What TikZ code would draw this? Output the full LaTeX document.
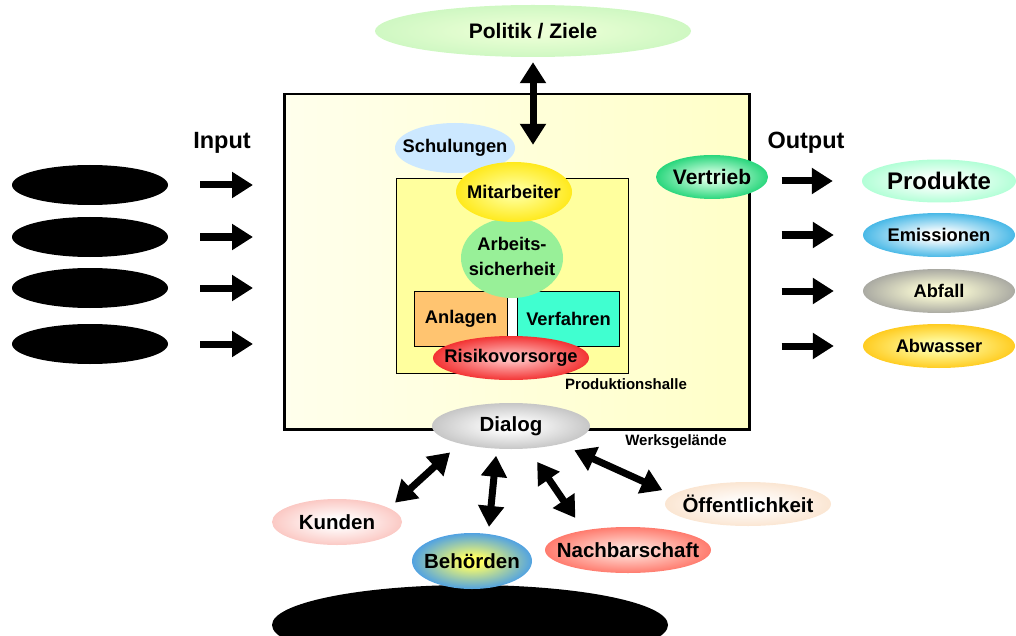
\documentclass[tikz,border=0pt]{standalone}
\usepackage{fontspec}
\setmainfont{Liberation Sans}
\usepackage{tikz}
\usetikzlibrary{shapes.geometric,arrows.meta}

\definecolor{werkhell}{RGB}{255,255,236}
\definecolor{werkgelb}{RGB}{255,255,200}
\definecolor{hallegelb}{RGB}{255,255,158}
\definecolor{schulblau}{RGB}{204,232,255}
\definecolor{arbgruen}{RGB}{152,240,152}
\definecolor{anlorange}{RGB}{255,196,112}
\definecolor{verftuerkis}{RGB}{64,255,208}
\definecolor{polinnen}{RGB}{236,255,214}
\definecolor{polaussen}{RGB}{200,246,190}
\definecolor{mitinnen}{RGB}{255,255,150}
\definecolor{mitaussen}{RGB}{255,228,0}
\definecolor{risinnen}{RGB}{255,185,185}
\definecolor{risaussen}{RGB}{240,20,20}
\definecolor{vertinnen}{RGB}{215,255,228}
\definecolor{vertaussen}{RGB}{0,205,100}
\definecolor{prodaussen}{RGB}{160,255,205}
\definecolor{emiaussen}{RGB}{30,168,225}
\definecolor{abfinnen}{RGB}{255,255,215}
\definecolor{abfaussen}{RGB}{150,150,150}
\definecolor{abwinnen}{RGB}{255,255,170}
\definecolor{abwaussen}{RGB}{255,192,0}
\definecolor{dialaussen}{RGB}{185,185,185}
\definecolor{kundaussen}{RGB}{250,188,182}
\definecolor{behinnen}{RGB}{255,255,100}
\definecolor{behaussen}{RGB}{40,140,255}
\definecolor{nachinnen}{RGB}{255,222,215}
\definecolor{nachaussen}{RGB}{255,100,85}
\definecolor{oeffaussen}{RGB}{250,224,200}

\makeatletter
\pgfdeclareradialshading[tikz@radial@inner,tikz@radial@outer]{weich}{\pgfpoint{0bp}{0bp}}{%
  color(0bp)=(tikz@radial@inner); color(4bp)=(tikz@radial@inner);
  color(30bp)=(tikz@radial@outer); color(50bp)=(tikz@radial@outer)}
\makeatother

\newcommand{\ovtext}[1]{\makebox[0pt]{#1}}

\begin{document}
\begin{tikzpicture}[x=1pt,y=-1pt]%
  \tikzstyle{oval}=[ellipse,inner sep=0pt,font=\bfseries\fontsize{18.3}{20}\selectfont]
  \tikzstyle{gross}=[font=\bfseries\fontsize{20.5}{22}\selectfont]
  \tikzstyle{klein}=[font=\bfseries\fontsize{15}{17}\selectfont]
  \tikzstyle{kasten}=[rectangle,draw,inner sep=0pt,anchor=north west]
  \tikzstyle{schwarz}=[ellipse,fill=black,inner sep=0pt]
  \tikzstyle{pfeil}=[line width=7pt,-{Triangle[length=21pt,width=25pt]}]
  \tikzstyle{doppel}=[line width=7pt,{Triangle[length=21pt,width=25pt]}-{Triangle[length=21pt,width=25pt]}]
  \useasboundingbox (0,0) rectangle (1016,636);

  \node[kasten,line width=2.5pt,left color=werkhell,right color=werkgelb,
    minimum width=465pt,minimum height=335pt] (werk) at (283,93) {};
  \node[oval,minimum width=316pt,minimum height=52pt,inner color=polinnen,
    outer color=polaussen,shading=weich,font=\bfseries\fontsize{21}{23}\selectfont]
    (politik) at (533,31) {\ovtext{Politik / Ziele}};
  \node[oval,minimum width=120pt,minimum height=50pt,fill=schulblau] (schulung) at (455,148) {\ovtext{Schulungen}};

  % Produktionshalle
  \node[kasten,line width=1pt,fill=hallegelb,minimum width=232pt,minimum height=195pt] (halle) at (396,178) {};
  \node[inner sep=0pt,fill=white,minimum width=10pt,minimum height=55pt,anchor=north west] (spalt) at (507,291) {};
  \node[kasten,line width=1pt,fill=anlorange,minimum width=93pt,minimum height=55pt] (anlagen) at (414,291) {};
  \node[kasten,line width=1pt,fill=verftuerkis,minimum width=102pt,minimum height=55pt] (verfahren) at (517,291) {};
  \node[oval] (anltext) at (anlagen.center) {Anlagen};
  \node[oval] (verftext) at (verfahren.center) {Verfahren};
  \node[oval,minimum width=102pt,minimum height=80pt,fill=arbgruen,
    font=\bfseries\fontsize{18.3}{25.5}\selectfont] (arbeit) at (512,258)
    {\ovtext{\begin{tabular}{@{}c@{}}Arbeits-\\sicherheit\end{tabular}}};
  \node[oval,minimum width=116pt,minimum height=60pt,inner color=mitinnen,
    outer color=mitaussen,shading=weich] (mitarb) at (514,192) {\ovtext{Mitarbeiter}};
  \node[oval,minimum width=156pt,minimum height=44pt,inner color=risinnen,
    outer color=risaussen,shading=weich] (risiko) at (511,358) {\ovtext{Risikovorsorge}};
  \node[klein] (hallename) at (626,384) {Produktionshalle};

  \node[oval,minimum width=112pt,minimum height=44pt,inner color=vertinnen,
    outer color=vertaussen,shading=weich,font=\bfseries\fontsize{21}{23}\selectfont]
    (vertrieb) at (712,177) {\ovtext{Vertrieb}};

  % Input / Output
  \node[font=\bfseries\fontsize{23.5}{25}\selectfont] (input) at (222,143) {Input};
  \node[font=\bfseries\fontsize{23.5}{25}\selectfont] (output) at (806,143) {Output};
  \foreach \y [count=\i] in {185,237,288,344} {
    \node[schwarz,minimum width=156pt,minimum height=40pt] (in\i) at (90,\y) {};
    \draw[pfeil,shorten <=32pt,shorten >=30pt] (in\i.east) -- (in\i -| werk.west);
  }
  \node[oval,minimum width=154pt,minimum height=43pt,inner color=white,
    outer color=prodaussen,shading=weich,font=\bfseries\fontsize{24}{26}\selectfont]
    (out1) at (939,181) {\ovtext{Produkte}};
  \node[oval,minimum width=152pt,minimum height=44pt,inner color=white,
    outer color=emiaussen,shading=weich] (out2) at (939,235) {\ovtext{Emissionen}};
  \node[oval,minimum width=152pt,minimum height=44pt,inner color=abfinnen,
    outer color=abfaussen,shading=weich] (out3) at (939,291) {\ovtext{Abfall}};
  \node[oval,minimum width=152pt,minimum height=44pt,inner color=abwinnen,
    outer color=abwaussen,shading=weich] (out4) at (939,346) {\ovtext{Abwasser}};
  \foreach \i in {1,...,4}
    \draw[pfeil,shorten <=31pt,shorten >=29pt] (out\i -| werk.east) -- (out\i.west);

  % Dialog
  \node[schwarz,minimum width=396pt,minimum height=80pt] (boden) at (470,625) {};
  \node[oval,gross,minimum width=158pt,minimum height=46pt,inner color=white,
    outer color=dialaussen,shading=weich] (dialog) at (511,426) {\ovtext{Dialog}};
  \node[klein] (werkname) at (676,442) {Werksgelände};
  \node[oval,gross,minimum width=130pt,minimum height=46pt,inner color=white,
    outer color=kundaussen,shading=weich] (kunden) at (337,522) {\ovtext{Kunden}};
  \node[oval,gross,minimum width=120pt,minimum height=56pt,inner color=behinnen,
    outer color=behaussen,shading=weich] (behoerden) at (472,561) {\ovtext{Behörden}};
  \node[oval,gross,minimum width=166pt,minimum height=46pt,inner color=nachinnen,
    outer color=nachaussen,shading=weich] (nachbar) at (628,550) {\ovtext{Nachbarschaft}};
  \node[oval,gross,minimum width=166pt,minimum height=44pt,inner color=white,
    outer color=oeffaussen,shading=weich] (oeff) at (748,504) {\ovtext{Öffentlichkeit}};

  \draw[doppel,shorten <=5pt,shorten >=17pt] (politik.south) -- (politik.south |- mitarb.north);
  \draw[doppel,shorten <=13pt,shorten >=8pt] (dialog.-161) -- (kunden.15);
  \draw[doppel,shorten <=7pt,shorten >=7pt] (dialog.-122) -- (behoerden.59);
  \draw[doppel,shorten <=16pt,shorten >=15pt] (dialog.-53) -- (nachbar.156);
  \draw[doppel,shorten <=15pt,shorten >=11pt] (dialog.-20) -- (oeff.173);
\end{tikzpicture}
\end{document}
